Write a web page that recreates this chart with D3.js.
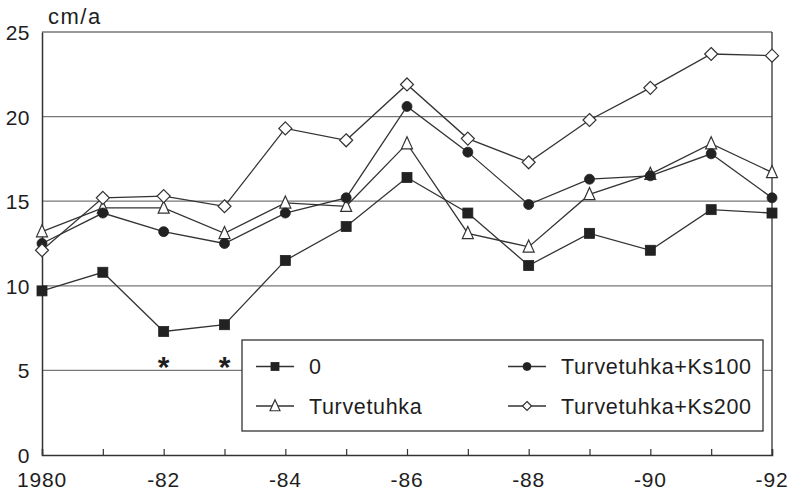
<!DOCTYPE html>
<html>
<head>
<meta charset="utf-8">
<script src="https://cdn.jsdelivr.net/npm/d3@7"></script>
<style>
  html, body { margin: 0; padding: 0; background: #fff; }
  svg { display: block; }
  text { font-family: "Liberation Sans", Arial, Helvetica, sans-serif; fill: #1e1e1e; }
</style>
</head>
<body>
<svg id="chart" width="792" height="490"></svg>
<script>
// Annual growth (cm/a) by treatment, 1980–1992
const years = [1980, 1981, 1982, 1983, 1984, 1985, 1986, 1987, 1988, 1989, 1990, 1991, 1992];
const seriesNames = ["0", "Turvetuhka", "Turvetuhka+Ks100", "Turvetuhka+Ks200"];
const valuesControl = [9.7, 10.8, 7.3, 7.7, 11.5, 13.5, 16.4, 14.3, 11.2, 13.1, 12.1, 14.5, 14.3];
const valuesAsh = [13.2, 14.6, 14.6, 13.1, 14.9, 14.7, 18.4, 13.1, 12.3, 15.4, 16.6, 18.4, 16.7];
const valuesAshKs100 = [12.5, 14.3, 13.2, 12.5, 14.3, 15.2, 20.6, 17.9, 14.8, 16.3, 16.5, 17.8, 15.2];
const valuesAshKs200 = [12.1, 15.2, 15.3, 14.7, 19.3, 18.6, 21.9, 18.7, 17.3, 19.8, 21.7, 23.7, 23.6];
const yTicks = [0, 5, 10, 15, 20, 25];
const xLabelYears = [1980, 1982, 1984, 1986, 1988, 1990, 1992];
const xLabels = ["1980", "-82", "-84", "-86", "-88", "-90", "-92"];
const starYears = [1982, 1983];
const starLevel = 5.6;
const unitLabel = "cm/a";

const svg = d3.select("#chart");
const plotLeft = 42, plotRight = 772, plotTop = 32, plotBottom = 455;
const x = d3.scaleLinear().domain([1980, 1992]).range([plotLeft, plotRight]);
const y = d3.scaleLinear().domain([0, 25]).range([plotBottom, plotTop]);

const lineColor = "#333";
const gridColor = "#777";
const textColor = "#1e1e1e";

// horizontal gridlines
svg.append("g").selectAll("line").data(yTicks.filter(d => d > 0)).join("line")
  .attr("x1", plotLeft).attr("x2", plotRight)
  .attr("y1", d => y(d)).attr("y2", d => y(d))
  .attr("stroke", gridColor).attr("stroke-width", 1.3);

// right frame
svg.append("line").attr("x1", plotRight).attr("x2", plotRight).attr("y1", plotTop).attr("y2", plotBottom)
  .attr("stroke", lineColor).attr("stroke-width", 1.3);

// y axis
const yAxis = d3.axisLeft(y).tickValues(yTicks).tickSize(0).tickPadding(12);
const gy = svg.append("g").attr("transform", `translate(${plotLeft},0)`).call(yAxis);
gy.select(".domain").attr("stroke", lineColor).attr("stroke-width", 1.5);
gy.selectAll("text").attr("font-size", 21).attr("fill", textColor)
  .attr("letter-spacing", 0.5).attr("dy", "0.36em")
  .attr("font-family", '"Liberation Sans", Arial, sans-serif');

// x axis with inward ticks every year
const xAxis = d3.axisBottom(x).tickValues(years).tickSize(-6).tickFormat(() => "");
const gx = svg.append("g").attr("transform", `translate(0,${plotBottom})`).call(xAxis);
gx.select(".domain").attr("stroke", lineColor).attr("stroke-width", 1.5);
gx.selectAll(".tick line").attr("stroke", lineColor).attr("stroke-width", 1.2);

svg.append("g").selectAll("text").data(xLabelYears).join("text")
  .attr("x", d => x(d)).attr("y", 486.5)
  .attr("text-anchor", "middle").attr("font-size", 21).attr("letter-spacing", 0.8)
  .text((d, i) => xLabels[i]);

svg.append("text").attr("x", 48).attr("y", 23.5).attr("font-size", 22)
  .attr("letter-spacing", 1.5).text(unitLabel);

// marker shapes
function drawMarker(g, type, cx, cy, s) {
  if (type === "square") {
    g.append("rect").attr("x", cx - s / 2).attr("y", cy - s / 2).attr("width", s).attr("height", s)
      .attr("fill", "#222").attr("stroke", "#222").attr("stroke-width", 0.8);
  } else if (type === "circle") {
    g.append("circle").attr("cx", cx).attr("cy", cy).attr("r", s / 2)
      .attr("fill", "#222").attr("stroke", "#222").attr("stroke-width", 0.8);
  } else if (type === "triangle") {
    const h = s * 1.05;
    g.append("path")
      .attr("d", `M${cx},${cy - h * 0.6}L${cx + s / 2},${cy + h * 0.45}L${cx - s / 2},${cy + h * 0.45}Z`)
      .attr("fill", "#fff").attr("stroke", "#333").attr("stroke-width", 1.2);
  } else if (type === "diamond") {
    const r = s / 2;
    g.append("path")
      .attr("d", `M${cx},${cy - r}L${cx + r},${cy}L${cx},${cy + r}L${cx - r},${cy}Z`)
      .attr("fill", "#fff").attr("stroke", "#333").attr("stroke-width", 1.2);
  }
}

const series = [
  { name: seriesNames[0], values: valuesControl, marker: "square", size: 10 },
  { name: seriesNames[1], values: valuesAsh, marker: "triangle", size: 11 },
  { name: seriesNames[2], values: valuesAshKs100, marker: "circle", size: 10 },
  { name: seriesNames[3], values: valuesAshKs200, marker: "diamond", size: 13 }
];

const line = d3.line().x((d, i) => x(years[i])).y(d => y(d));

series.forEach(s => {
  const g = svg.append("g");
  g.append("path").datum(s.values).attr("d", line)
    .attr("fill", "none").attr("stroke", lineColor).attr("stroke-width", 1.3);
  s.values.forEach((v, i) => drawMarker(g, s.marker, x(years[i]), y(v), s.size));
});

// significance markers
svg.append("g").selectAll("text").data(starYears).join("text")
  .attr("x", d => x(d)).attr("y", y(starLevel) + 17)
  .attr("text-anchor", "middle").attr("font-size", 30).attr("font-weight", "bold")
  .text("*");

// legend
const lg = svg.append("g");
lg.append("rect").attr("x", 242).attr("y", 340).attr("width", 521).attr("height", 91)
  .attr("fill", "#fff").attr("stroke", lineColor).attr("stroke-width", 1.3);
const legendItems = [
  { s: series[0], lx: 256, ly: 366.5 },
  { s: series[1], lx: 256, ly: 406 },
  { s: series[2], lx: 508, ly: 366.5 },
  { s: series[3], lx: 508, ly: 406 }
];
legendItems.forEach(it => {
  lg.append("line").attr("x1", it.lx).attr("x2", it.lx + 38).attr("y1", it.ly).attr("y2", it.ly)
    .attr("stroke", lineColor).attr("stroke-width", 1.3);
  const ms = it.s.marker === "diamond" ? 9 : (it.s.marker === "circle" ? 8 : (it.s.marker === "triangle" ? 10 : 8));
  drawMarker(lg, it.s.marker, it.lx + 19, it.ly, ms);
  lg.append("text").attr("x", it.lx + 53).attr("y", it.ly + 7.8)
    .attr("font-size", 21.5).attr("letter-spacing", 0.65).text(it.s.name);
});
</script>
</body>
</html>
